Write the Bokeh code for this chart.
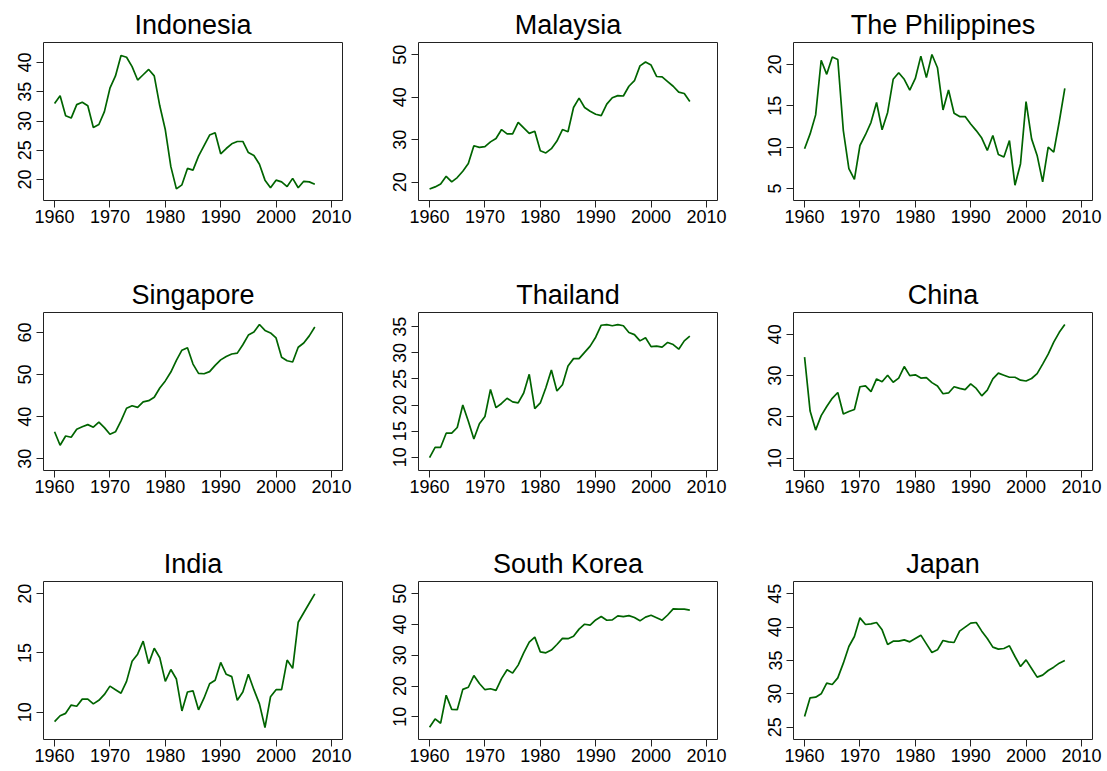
import math
from bokeh.plotting import figure
from bokeh.models import Range1d, FixedTicker
from bokeh.layouts import row, column
from bokeh.embed import file_html
from bokeh.resources import INLINE

years = list(range(1960, 2008))

indonesia = [33.0, 34.3, 30.9, 30.5, 32.8, 33.2, 32.6, 28.9, 29.4, 31.6,
             35.6, 37.7, 41.2, 40.9, 39.3, 37.0, 37.9, 38.8, 37.7, 32.6,
             28.5, 22.2, 18.4, 19.1, 21.9, 21.6, 24.0, 25.8, 27.6, 28.0,
             24.4, 25.3, 26.1, 26.5, 26.5, 24.6, 24.1, 22.6, 19.9, 18.6,
             19.9, 19.6, 18.8, 20.2, 18.6, 19.7, 19.6, 19.2]
malaysia = [18.4, 18.9, 19.6, 21.4, 20.1, 21.1, 22.6, 24.4, 28.6, 28.2,
            28.4, 29.5, 30.3, 32.4, 31.4, 31.4, 34.1, 32.8, 31.5, 32.0,
            27.4, 26.9, 27.9, 29.7, 32.4, 31.9, 37.6, 39.8, 37.6, 36.7,
            36.0, 35.7, 38.4, 39.9, 40.4, 40.3, 42.6, 43.9, 47.4, 48.3,
            47.6, 44.9, 44.8, 43.7, 42.6, 41.2, 40.9, 39.0]
philippines = [9.8, 11.6, 13.9, 20.5, 18.8, 20.9, 20.6, 12.0, 7.4, 6.1,
               10.2, 11.5, 13.0, 15.4, 12.1, 14.2, 18.2, 19.0, 18.2, 16.9,
               18.3, 21.0, 18.4, 21.2, 19.6, 14.5, 16.9, 14.1, 13.7, 13.7,
               12.8, 12.0, 11.1, 9.6, 11.4, 9.1, 8.8, 10.8, 5.4, 8.0,
               15.5, 11.0, 9.0, 5.8, 10.0, 9.4, 13.1, 17.1]
singapore = [36.4, 33.2, 35.4, 35.1, 37.0, 37.6, 38.1, 37.5, 38.7, 37.4,
             35.8, 36.4, 39.0, 42.0, 42.6, 42.2, 43.5, 43.8, 44.6, 46.8,
             48.5, 50.6, 53.4, 55.8, 56.4, 52.5, 50.3, 50.2, 50.7, 52.2,
             53.5, 54.3, 54.9, 55.1, 57.1, 59.4, 60.1, 61.9, 60.5, 59.9,
             58.7, 54.1, 53.3, 53.0, 56.5, 57.5, 59.2, 61.3]
thailand = [9.9, 11.9, 11.9, 14.6, 14.6, 15.7, 20.0, 16.9, 13.5, 16.4,
            17.8, 23.0, 19.5, 20.3, 21.3, 20.6, 20.4, 22.3, 25.9, 19.3,
            20.4, 23.3, 26.7, 22.7, 23.9, 27.5, 28.9, 28.9, 30.1, 31.3,
            33.0, 35.3, 35.4, 35.2, 35.4, 35.2, 33.9, 33.5, 32.3, 32.9,
            31.2, 31.3, 31.1, 32.0, 31.6, 30.7, 32.3, 33.2]
china = [34.5, 21.4, 16.8, 20.3, 22.5, 24.5, 25.9, 20.7, 21.3, 21.8,
         27.3, 27.5, 26.1, 29.2, 28.5, 30.1, 28.4, 29.4, 32.2, 30.0,
         30.2, 29.4, 29.5, 28.3, 27.5, 25.6, 25.8, 27.3, 26.9, 26.6,
         28.0, 26.9, 25.1, 26.5, 29.2, 30.6, 30.1, 29.6, 29.6, 28.9,
         28.7, 29.3, 30.5, 32.8, 35.2, 38.1, 40.5, 42.4]
india = [9.2, 9.7, 9.9, 10.6, 10.5, 11.1, 11.1, 10.7, 11.0, 11.5,
         12.2, 11.9, 11.6, 12.6, 14.3, 14.9, 16.0, 14.1, 15.4, 14.6,
         12.6, 13.6, 12.8, 10.1, 11.7, 11.8, 10.2, 11.2, 12.4, 12.7,
         14.2, 13.2, 13.0, 11.0, 11.7, 13.2, 11.9, 10.7, 8.7, 11.3,
         11.9, 11.9, 14.4, 13.7, 17.6, 18.4, 19.2, 20.0]
south_korea = [6.6, 9.3, 7.9, 17.0, 12.4, 12.3, 18.9, 19.6, 23.4, 20.8,
               18.8, 19.1, 18.6, 22.4, 25.3, 24.2, 26.8, 30.8, 34.3, 35.9,
               31.1, 30.8, 31.7, 33.5, 35.5, 35.4, 36.2, 38.5, 40.1, 39.8,
               41.5, 42.6, 41.4, 41.5, 42.8, 42.6, 42.9, 42.3, 41.2, 42.4,
               43.0, 42.2, 41.4, 43.1, 45.1, 45.0, 45.0, 44.7]
japan = [26.6, 29.4, 29.5, 30.0, 31.6, 31.4, 32.4, 34.6, 37.1, 38.6,
         41.4, 40.4, 40.5, 40.7, 39.6, 37.4, 37.9, 37.9, 38.1, 37.8,
         38.3, 38.8, 37.5, 36.2, 36.6, 38.0, 37.8, 37.7, 39.4, 40.0,
         40.6, 40.7, 39.4, 38.3, 37.0, 36.7, 36.8, 37.2, 35.6, 34.1,
         35.1, 33.8, 32.5, 32.8, 33.5, 34.0, 34.6, 35.0]

countries = ["Indonesia", "Malaysia", "The Philippines",
             "Singapore", "Thailand", "China",
             "India", "South Korea", "Japan"]
series = [indonesia, malaysia, philippines,
          singapore, thailand, china,
          india, south_korea, japan]

x_ticks = [1960, 1970, 1980, 1990, 2000, 2010]
y_ticks = [[20, 25, 30, 35, 40], [20, 30, 40, 50], [5, 10, 15, 20],
           [30, 40, 50, 60], [10, 15, 20, 25, 30, 35], [10, 20, 30, 40],
           [10, 15, 20], [10, 20, 30, 40, 50], [25, 30, 35, 40, 45]]

# axis limits (layout setting)
y_limits = [(16.42, 43.41), (15.7, 52.9), (3.55, 22.65),
            (27.2, 64.76), (7.45, 37.74), (7.0, 45.3),
            (7.69, 21.04), (2.6, 54.0), (23.15, 46.85)]

FONT = "Liberation Sans"
FRAME_W, FRAME_H = 299, 158
LEFT, TOP = 43, 42
ROW_H = [270, 269, 231]
COL_W = [375, 375, 357]


def make(i):
    r, c = divmod(i, 3)
    w = COL_W[c]
    h = ROW_H[r]
    p = figure(width=w, height=h, output_backend="svg", toolbar_location=None,
               x_range=Range1d(1958, 2012), y_range=Range1d(*y_limits[i]),
               min_border_left=LEFT, min_border_right=w - LEFT - FRAME_W,
               min_border_top=TOP, min_border_bottom=h - TOP - FRAME_H,
               title=countries[i])
    p.line(years, series[i], line_color="#006400", line_width=1.7)
    p.title.text_font = FONT
    p.title.text_font_size = "27px"
    p.title.text_font_style = "normal"
    p.title.text_color = "black"
    p.title.align = "center"
    p.title.standoff = 6
    p.xgrid.visible = False
    p.ygrid.visible = False
    p.outline_line_color = "#222222"
    p.outline_line_width = 1
    p.outline_line_alpha = 1
    p.background_fill_color = "white"
    p.border_fill_color = "white"
    for ax in (p.xaxis[0], p.yaxis[0]):
        ax.axis_line_color = None
        ax.major_tick_line_color = "#222222"
        ax.major_tick_out = 7
        ax.major_tick_in = 0
        ax.minor_tick_line_color = None
        ax.major_label_text_font = FONT
        ax.major_label_text_font_size = "18px"
        ax.major_label_text_color = "black"
    p.xaxis[0].ticker = FixedTicker(ticks=x_ticks)
    p.xaxis[0].major_label_standoff = 2
    p.yaxis[0].ticker = FixedTicker(ticks=y_ticks[i])
    p.yaxis[0].major_label_standoff = 5
    p.yaxis[0].major_label_orientation = "parallel"
    return p


figs = [make(i) for i in range(9)]
layout = column(row(*figs[0:3]), row(*figs[3:6]), row(*figs[6:9]))

open("out.html", "w").write(file_html(layout, INLINE))
